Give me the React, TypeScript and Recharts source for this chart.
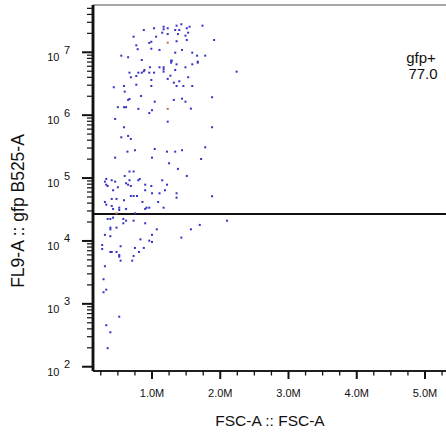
import { ScatterChart, Scatter, XAxis, YAxis, ReferenceLine, ReferenceArea, Label } from 'recharts';

const FONT = 'Liberation Sans, Arial, sans-serif';
const INK = '#111';

// FSC-A in millions, FL9-A (gfp) raw values — gfp population
const fscMain = [
  0.88, 1.03, 1.17, 1.17, 1.23, 1.15, 1.23, 0.73, 1.06, 0.99, 0.96, 0.77, 0.79, 0.99, 1.11,
  0.55, 0.65, 0.85, 1.28, 1.28, 0.97, 1.11, 1.17, 1.17, 1.17, 0.89, 0.88, 0.85, 0.67, 0.8,
  0.96, 1.03, 1.27, 0.77, 0.69, 1.23, 0.99, 0.44, 0.59, 0.77, 0.99, 1.36, 1.43, 1.51, 1.55,
  1.74, 1.34, 1.4, 1.53, 1.38, 1.49, 1.36, 1.51, 1.91, 1.44, 1.34, 1.59, 1.66, 1.78, 1.29,
  1.67, 1.67, 1.36, 1.59, 1.49, 1.34, 2.24, 1.53, 1.4, 1.32, 1.36, 1.46, 1.59, 0.6, 0.67,
  0.65, 0.84, 1.04, 0.5, 0.59, 0.62, 0.8, 1.0, 0.96, 0.46, 1.23, 0.59, 0.65, 0.55, 0.69,
  1.04, 0.75, 0.64, 1.22, 0.46, 1.0, 1.25, 1.32, 1.44, 1.49, 1.88, 1.57, 1.88, 1.78, 1.34,
  1.44, 1.72, 1.38, 1.51, 1.36, 1.36, 1.88, 2.1, 1.7, 1.57, 1.43, 0.67, 0.73, 0.6, 0.33,
  0.41, 0.46, 0.31, 0.67, 0.8, 0.82, 0.62, 0.65, 0.69, 0.9, 0.99, 1.15, 1.22, 0.33, 0.35,
  0.5, 0.43, 0.9, 1.19, 1.0, 1.11, 0.69, 0.73, 0.78, 0.41, 0.48, 0.59, 0.31, 0.86, 1.09,
  0.33, 0.41, 0.52, 0.52, 0.43, 0.62, 0.92, 0.96, 0.9, 1.17, 0.75, 0.35, 0.39, 0.43, 0.58,
  0.62, 0.73, 0.58, 0.9, 0.39, 0.39, 0.48, 1.07, 0.31, 0.39, 1.0, 0.83, 0.96, 1.0, 0.54,
  0.27, 0.75, 0.88, 0.27, 0.39, 0.41, 0.48, 0.81, 0.52, 0.52, 0.73, 0.54, 0.71, 0.31, 0.29,
  0.33, 0.29, 0.52, 0.33, 0.39, 0.35,
];
const fl9Main = [
  2.26e7, 2.41e7, 2.55e7, 2.32e7, 2.41e7, 2.05e7, 1.95e7, 1.77e7, 1.77e7, 1.47e7, 1.41e7, 1.29e7, 1.12e7, 1.14e7, 1.09e7,
  8.84e6, 8.34e6, 7.55e6, 7.35e6, 6.84e6, 5.78e6, 5.78e6, 5.78e6, 5.37e6, 4.92e6, 5.24e6, 4.99e6, 4.74e6, 4.74e6, 4.74e6,
  4.74e6, 4.74e6, 4.25e6, 4.2e6, 4.01e6, 3.77e6, 3.63e6, 2.78e6, 2.91e6, 3.05e6, 2.91e6, 2.65e7, 2.79e7, 2.41e7, 2.55e7,
  2.65e7, 2.26e7, 2.26e7, 2.05e7, 1.95e7, 1.84e7, 1.5e7, 1.57e7, 1.57e7, 1.09e7, 9.86e6, 9.86e6, 8.84e6, 8.84e6, 7.35e6,
  7.1e6, 6.84e6, 6.44e6, 6.44e6, 5.78e6, 5.24e6, 4.92e6, 4.01e6, 3.46e6, 3.29e6, 2.91e6, 2.91e6, 2.91e6, 2.37e6, 1.81e6,
  1.75e6, 2.02e6, 1.64e6, 1.34e6, 1.34e6, 1.34e6, 1.26e6, 1.2e6, 1.08e6, 8.71e5, 7.89e5, 6.43e5, 4.67e5, 4.45e5, 4.19e5,
  2.9e5, 2.77e5, 2.63e5, 2.63e5, 2.11e5, 2.11e5, 1.72e5, 1.75e6, 1.83e6, 1.64e6, 1.93e6, 1.27e6, 6.43e5, 3.09e5, 2.63e5,
  2.77e5, 2.01e5, 1.4e5, 1.08e5, 5.73e4, 4.88e4, 5.14e4, 2.1e4, 1.8e4, 1.53e4, 1.13e4, 1.27e5, 1.27e5, 1.08e5, 9.68e4,
  9.23e4, 8.77e4, 8.77e4, 9.23e4, 9.23e4, 9.68e4, 8.26e4, 7.85e4, 7.48e4, 7.85e4, 7.48e4, 9.23e4, 7.85e4, 7.85e4, 7.48e4,
  7.14e4, 6.4e4, 6.4e4, 6.4e4, 5.73e4, 5.73e4, 5.19e4, 5.19e4, 5.19e4, 4.66e4, 4.66e4, 4.44e4, 4.17e4, 4.17e4, 4.17e4,
  3.78e4, 3.6e4, 3.38e4, 3.11e4, 3.23e4, 3.23e4, 3.38e4, 3.38e4, 3.23e4, 3.38e4, 2.75e4, 2.24e4, 2.24e4, 2.35e4, 2.24e4,
  2.1e4, 2.1e4, 1.91e4, 1.91e4, 1.63e4, 1.53e4, 1.63e4, 1.53e4, 1.25e4, 1.19e4, 1.25e4, 1.06e4, 1.01e4, 9640, 8240,
  8630, 7740, 7740, 7460, 6680, 6680, 6680, 6680, 5980, 5620, 5770, 4860, 4860, 3960, 2460,
  1680, 1530, 625, 457, 353, 197,
];

// a few events drawn in another colour
const fscOther = [1.23, 1.23, 0.48];
const fl9Other = [1.42e7, 1.26e6, 2.75e4];

const xMajorTicks = [1, 2, 3, 4, 5];
const yMajorTicks = [1e2, 1e3, 1e4, 1e5, 1e6, 1e7];
const gateName = 'gfp+';
const gatePercent = '77.0';
const gateThreshold = 26900;

const X_DOMAIN = [0.1355, 5.3077];
const Y_DOMAIN = [85.5, 5.65e7];

// screen pixels per data unit, used only to size the tick marks
const PX_PER_M = 68.25;
const PX_PER_DECADE = 62.9;

const xTicks: number[] = [];
for (let v = 0.25; v <= X_DOMAIN[1]; v += 0.25) xTicks.push(v);

const yTicks: number[] = [];
for (let k = 2; k <= 7; k++) {
  for (let m = 1; m <= 9; m++) {
    const v = m * 10 ** k;
    if (v <= Y_DOMAIN[1]) yTicks.push(v);
  }
}

const mainData = fscMain.map((x, i) => ({ fsc: x, fl9: fl9Main[i] }));
const otherData = fscOther.map((x, i) => ({ fsc: x, fl9: fl9Other[i] }));

// tick labels only; the marks are drawn as reference segments below
function XTick({ x, payload }: any) {
  const v = payload.value;
  if (!xMajorTicks.includes(v)) return null;
  return (
    <text x={x} y={397} textAnchor='middle' fontSize={11} fontFamily={FONT} fill={INK}>
      {`${v.toFixed(1)}M`}
    </text>
  );
}

function YTick({ y, payload }: any) {
  const v = payload.value;
  if (!yMajorTicks.includes(v)) return null;
  const exp = Math.round(Math.log10(v));
  return (
    <g>
      <text x={59.5} y={y + 9} textAnchor='end' fontSize={11} fontFamily={FONT} fill={INK}>
        10
      </text>
      <text x={64} y={y + 1.5} textAnchor='start' fontSize={11} fontFamily={FONT} fill={INK}>
        {exp}
      </text>
    </g>
  );
}

const blueDot = (p: any) => <rect x={p.cx - 1} y={p.cy - 1} width={2} height={2} fill='#3434c4' />;
const redDot = (p: any) => <rect x={p.cx - 1} y={p.cy - 1} width={2} height={2} fill='#c07050' />;

export default function App() {
  return (
    <div style={{ position: 'absolute', left: 0, top: 0 }}>
      <ScatterChart width={446} height={437} margin={{ top: 5, right: 0, bottom: 0, left: 0 }}>
        <XAxis
          type='number'
          dataKey='fsc'
          domain={X_DOMAIN}
          allowDataOverflow
          ticks={xTicks}
          interval={0}
          tickSize={0}
          tickMargin={0}
          tickLine={false}
          tick={(p: any) => <XTick {...p} />}
          axisLine={{ stroke: INK, strokeWidth: 1.5 }}
          height={66}
        >
          <Label
            content={() => (
              <text x={270} y={426} textAnchor='middle' fontSize={15.5} fontFamily={FONT} fill={INK}>
                FSC-A :: FSC-A
              </text>
            )}
          />
        </XAxis>
        <YAxis
          type='number'
          dataKey='fl9'
          scale='log'
          domain={Y_DOMAIN}
          allowDataOverflow
          ticks={yTicks}
          interval={0}
          tickSize={0}
          tickMargin={0}
          tickLine={false}
          tick={(p: any) => <YTick {...p} />}
          axisLine={{ stroke: INK, strokeWidth: 2.5 }}
          width={93}
        >
          <Label
            content={() => (
              <text
                x={18}
                y={211}
                transform='rotate(-90, 18, 211)'
                textAnchor='middle'
                dominantBaseline='central'
                fontSize={17.5}
                fontFamily={FONT}
                fill={INK}
              >
                FL9-A :: gfp B525-A
              </text>
            )}
          />
        </YAxis>
        <ReferenceLine y={Y_DOMAIN[1]} stroke='#888' strokeWidth={1.5} />
        <ReferenceArea
          y1={gateThreshold}
          y2={Y_DOMAIN[1]}
          fill='none'
          stroke='none'
          label={(p: any) => (
            <g fontFamily={FONT} fontSize={15} fill={INK}>
              <text x={p.viewBox.x + 328} y={p.viewBox.y + 58} textAnchor='middle'>{gateName}</text>
              <text x={p.viewBox.x + 330} y={p.viewBox.y + 74} textAnchor='middle'>{gatePercent}</text>
            </g>
          )}
        />
        <ReferenceLine y={gateThreshold} stroke={INK} strokeWidth={2} />
        <Scatter data={mainData} shape={blueDot} isAnimationActive={false} />
        <Scatter data={otherData} shape={redDot} isAnimationActive={false} />

        {/* axis lines and tick marks */}
        <ReferenceLine
          segment={[{ x: X_DOMAIN[0], y: Y_DOMAIN[0] }, { x: X_DOMAIN[0], y: Y_DOMAIN[1] }]}
          stroke={INK}
          strokeWidth={2.5}
          ifOverflow='visible'
        />
        <ReferenceLine
          segment={[{ x: X_DOMAIN[0], y: Y_DOMAIN[0] }, { x: X_DOMAIN[1], y: Y_DOMAIN[0] }]}
          stroke={INK}
          strokeWidth={1.5}
          ifOverflow='visible'
        />
        {yTicks.map((v) => {
          const major = yMajorTicks.includes(v);
          const len = (major ? 11 : 6) / PX_PER_M;
          return (
            <ReferenceLine
              key={`yt${v}`}
              segment={[{ x: X_DOMAIN[0], y: v }, { x: X_DOMAIN[0] - len, y: v }]}
              stroke={INK}
              strokeWidth={major ? 2 : 1.2}
              ifOverflow='visible'
            />
          );
        })}
        {xTicks.map((v) => {
          const major = xMajorTicks.includes(v);
          const drop = 10 ** ((major ? 8 : 4.5) / PX_PER_DECADE);
          return (
            <ReferenceLine
              key={`xt${v}`}
              segment={[{ x: v, y: Y_DOMAIN[0] }, { x: v, y: Y_DOMAIN[0] / drop }]}
              stroke={INK}
              strokeWidth={major ? 2 : 1.3}
              ifOverflow='visible'
            />
          );
        })}
      </ScatterChart>
    </div>
  );
}
